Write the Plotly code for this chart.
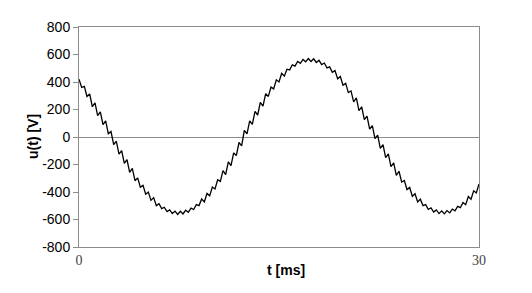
import numpy as np
import plotly.graph_objects as go

u_values = [
    420, 360, 368, 295, 313, 220, 248, 156, 183, 90,
    117, 23, 40, -56, -31, -125, -99, -192, -165, -257,
    -228, -318, -297, -365, -352, -416, -400, -461, -441, -499,
    -485, -521, -511, -543, -530, -557, -539, -563, -540, -560,
    -533, -548, -517, -527, -492, -499, -451, -472, -411, -428,
    -364, -378, -311, -323, -244, -273, -181, -209, -116, -135,
    -40, -65, 48, 23, 118, 92, 186, 160, 252, 224,
    315, 295, 363, 350, 416, 400, 463, 443, 493, 488,
    525, 516, 549, 536, 564, 547, 571, 549, 569, 542,
    558, 527, 538, 503, 510, 471, 483, 423, 440, 376,
    390, 323, 335, 255, 284, 192, 220, 126, 152, 58,
    83, -12, 13, -82, -56, -150, -123, -216, -188, -279,
    -249, -328, -316, -382, -367, -431, -413, -473, -452, -499,
    -492, -527, -515, -546, -530, -557, -537, -559, -535, -552,
    -524, -537, -505, -514, -477, -492, -433, -453, -391, -407,
    -342,
]
t_start, t_end = 0, 30
t_ms = np.linspace(t_start, t_end, len(u_values))

y_tickvals = [800, 600, 400, 200, 0, -200, -400, -600, -800]
y_ticktext = ["800", "600", "400", "200", "0", "-200", "-400", "-600", "-800"]
x_tickvals = [0, 30]
x_ticktext = ["0", "30"]

fig = go.Figure()
fig.add_trace(go.Scatter(
    x=t_ms, y=u_values, mode="lines",
    line=dict(color="#000000", width=1.3),
    showlegend=False, hoverinfo="skip",
))

axis_gray = "#8c8c8c"
fig.update_layout(
    width=532, height=293,
    margin=dict(l=79, r=53, t=27, b=46),
    paper_bgcolor="white", plot_bgcolor="white",
    font=dict(family="Liberation Sans, Arial, sans-serif", size=14, color="#000000"),
    xaxis=dict(
        range=[t_start, t_end], tickvals=x_tickvals, ticktext=x_ticktext,
        showgrid=False, zeroline=False, ticks="",
        showline=True, linecolor=axis_gray, linewidth=1, mirror=True,
        tickfont=dict(family="Liberation Serif, Times New Roman, serif", size=14, color="#444444"),
        ticklabelstandoff=0,
    ),
    yaxis=dict(
        range=[-800, 800], tickvals=y_tickvals, ticktext=y_ticktext,
        showgrid=False, zeroline=True, zerolinecolor=axis_gray, zerolinewidth=1,
        ticks="outside", ticklen=5, tickcolor=axis_gray, tickwidth=1,
        showline=True, linecolor=axis_gray, linewidth=1, mirror=True,
        tickfont=dict(family="Liberation Sans, Arial, sans-serif", size=14, color="#000000"),
    ),
    annotations=[
        dict(text="<b>t [ms]</b>", xref="paper", yref="paper", x=0.518, y=-0.105,
             xanchor="center", yanchor="middle", showarrow=False,
             font=dict(family="Liberation Sans, Arial, sans-serif", size=14, color="#000000")),
        dict(text="<b>u(t) [V]</b>", xref="paper", yref="paper", x=-0.115, y=0.5,
             xanchor="center", yanchor="middle", showarrow=False, textangle=-90,
             font=dict(family="Liberation Sans, Arial, sans-serif", size=14, color="#000000")),
    ],
)

fig.write_html("out.html")
